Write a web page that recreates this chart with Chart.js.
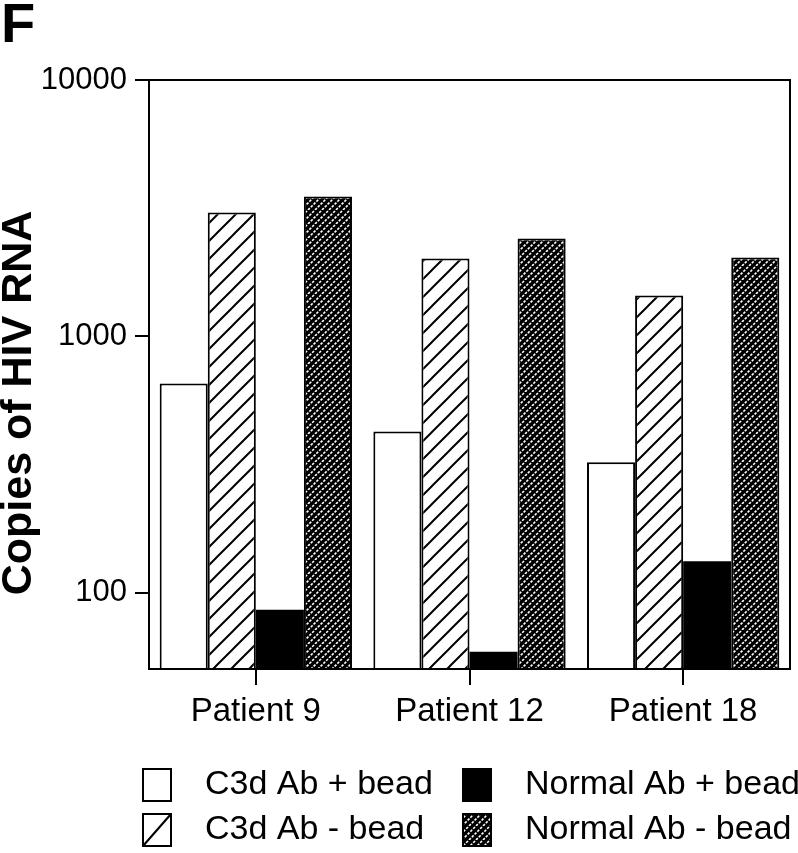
<!DOCTYPE html>
<html><head><meta charset="utf-8">
<script src="https://cdn.jsdelivr.net/npm/chart.js@4.4.0/dist/chart.umd.min.js"></script>
<style>html,body{margin:0;padding:0;background:#fff;} #wrap{position:relative;width:798px;height:853px;}</style>
</head><body><div id="wrap"><canvas id="c" width="798" height="853"></canvas></div>
<script>
const categories = ['Patient 9', 'Patient 12', 'Patient 18'];
const seriesNames = ['C3d Ab + bead', 'C3d Ab - bead', 'Normal Ab + bead', 'Normal Ab - bead'];
const c3dPlusBead = [656, 426, 323];
const c3dMinusBead = [3044, 2014, 1445];
const normalPlusBead = [86, 59, 133];
const normalMinusBead = [3513, 2410, 2032];
const yTicks = [100, 1000, 10000];
const yMin = 50.5, yMax = 10000;
const panelLetter = 'F';
const yTitle = 'Copies of HIV RNA';

const FONT = "'Liberation Sans', Arial, Helvetica, sans-serif";

function lightHatch() {
  const s = 18, c = document.createElement('canvas');
  c.width = s; c.height = s;
  const g = c.getContext('2d');
  g.fillStyle = '#fff'; g.fillRect(0, 0, s, s);
  g.strokeStyle = '#000'; g.lineWidth = 2;
  g.beginPath();
  g.moveTo(-2, s + 2); g.lineTo(s + 2, -2);
  g.moveTo(-2, 2); g.lineTo(2, -2);
  g.moveTo(s - 2, s + 2); g.lineTo(s + 2, s - 2);
  g.stroke();
  return g.createPattern(c, 'repeat');
}
function denseHatch() {
  const s = 14, c = document.createElement('canvas');
  c.width = s; c.height = s;
  const g = c.getContext('2d');
  g.fillStyle = '#000'; g.fillRect(0, 0, s, s);
  g.strokeStyle = '#fff'; g.lineWidth = 1.6;
  const seg = s * Math.SQRT2 / 5;
  g.setLineDash([seg * 0.65, seg * 0.35]);
  g.beginPath();
  for (let k = -1; k <= 2; k++) {
    const o = k * s / 2;
    g.moveTo(o, s); g.lineTo(o + s, 0);
  }
  g.stroke();
  return g.createPattern(c, 'repeat');
}
const fills = ['#ffffff', lightHatch(), '#000000', denseHatch()];

const decor = {
  id: 'decor',
  afterDatasetsDraw(chart) {
    const { ctx, chartArea: a } = chart;
    ctx.save();
    ctx.strokeStyle = '#000'; ctx.lineWidth = 2;
    ctx.strokeRect(a.left, a.top, a.right - a.left, a.bottom - a.top);
    ctx.restore();
  },
  afterDraw(chart) {
    const ctx = chart.ctx;
    ctx.save();
    ctx.fillStyle = '#000';
    ctx.font = "bold 56px " + FONT;
    ctx.textBaseline = 'top'; ctx.textAlign = 'left';
    ctx.fillText(panelLetter, 1, -1);
    ctx.save();
    ctx.translate(19, 403);
    ctx.rotate(-Math.PI / 2);
    ctx.font = "bold 43px " + FONT;
    ctx.textAlign = 'center'; ctx.textBaseline = 'middle';
    ctx.fillText(yTitle, 0, 0);
    ctx.restore();
    const order = [0, 2, 1, 3];
    const cols = [143, 463], rows = [785, 830];
    ctx.font = "34px " + FONT;
    ctx.textBaseline = 'middle'; ctx.textAlign = 'left';
    order.forEach((di, i) => {
      const ds = chart.data.datasets[di];
      const x = cols[i % 2], y = rows[Math.floor(i / 2)];
      const w = 28, h = 32;
      ctx.fillStyle = ds.backgroundColor;
      ctx.fillRect(x, y - h / 2, w, h);
      if (di === 1) {
        ctx.fillStyle = '#fff'; ctx.fillRect(x, y - h / 2, w, h);
        ctx.strokeStyle = '#000'; ctx.lineWidth = 2;
        ctx.beginPath(); ctx.moveTo(x, y + h / 2); ctx.lineTo(x + w, y - h / 2); ctx.stroke();
      }
      ctx.strokeStyle = '#000'; ctx.lineWidth = 2;
      ctx.strokeRect(x, y - h / 2, w, h);
      ctx.fillStyle = '#000';
      ctx.fillText(ds.label, x + 62, y);
    });
    ctx.restore();
  }
};

new Chart(document.getElementById('c').getContext('2d'), {
  type: 'bar',
  data: {
    labels: categories,
    datasets: [
      { label: seriesNames[0], data: c3dPlusBead, backgroundColor: fills[0], borderColor: '#000', borderWidth: 2 },
      { label: seriesNames[1], data: c3dMinusBead, backgroundColor: fills[1], borderColor: '#000', borderWidth: 2 },
      { label: seriesNames[2], data: normalPlusBead, backgroundColor: fills[2], borderColor: '#000', borderWidth: 0 },
      { label: seriesNames[3], data: normalMinusBead, backgroundColor: fills[3], borderColor: '#000', borderWidth: 2 }
    ]
  },
  options: {
    responsive: false, animation: false, devicePixelRatio: 1,
    layout: { padding: { left: 0, right: 8, top: 80, bottom: 114 } },
    plugins: { legend: { display: false }, tooltip: { enabled: false } },
    datasets: { bar: { barPercentage: 1, categoryPercentage: 0.9 } },
    scales: {
      x: {
        grid: { display: true, drawOnChartArea: false, drawTicks: true, tickLength: 16, offset: false, color: '#000', lineWidth: 2 },
        border: { display: true, color: '#000', width: 2 },
        ticks: { color: '#000', font: { family: FONT, size: 33 }, padding: 7, maxRotation: 0, autoSkip: false },
        afterFit: s => { s.height = 70; }
      },
      y: {
        type: 'logarithmic', min: yMin, max: yMax,
        afterBuildTicks: s => { s.ticks = yTicks.map(v => ({ value: v })); },
        ticks: { color: '#000', font: { family: FONT, size: 31 }, padding: 8, callback: v => String(v) },
        grid: { display: true, drawOnChartArea: false, drawTicks: true, tickLength: 14, color: '#000', lineWidth: 2 },
        border: { display: true, color: '#000', width: 2 },
        afterFit: s => { s.width = 149; }
      }
    }
  },
  plugins: [decor]
});
</script></body></html>
